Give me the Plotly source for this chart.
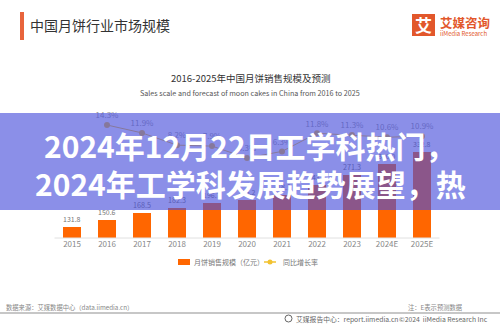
import plotly.graph_objects as go

years = ["2015", "2016", "2017", "2018", "2019", "2020", "2021", "2022", "2023", "2024E", "2025E"]
sales = [131.8, 150.6, 168.5, 182.3, 196.7, 205.2, 218.1, 243.8, 271.3, 300.0, 332.8]
growth_years = ["2016", "2017", "2018", "2019", "2020", "2021", "2022", "2023", "2024E", "2025E"]
growth = [14.3, 11.9, 8.2, 7.9, 4.3, 6.3, 11.8, 11.3, 10.6, 10.9]

W, H = 500, 325
FONT = "Noto Sans CJK SC"


def py(p):
    return (H - p) / H


def px(p):
    return p / W


fig = go.Figure()
fig.add_trace(go.Bar(
    x=years, y=sales, width=0.5, marker=dict(color="#ff6600", line=dict(width=0)),
    texttemplate="%{y:.1f}", textposition="outside", cliponaxis=False,
    textfont=dict(size=8, color="#777777", family=FONT), name="月饼销售规模（亿元）",
))
fig.add_trace(go.Scatter(
    x=growth_years, y=growth, yaxis="y2", mode="lines+markers+text",
    text=[f"{g}%" for g in growth], textposition="top center",
    textfont=dict(size=8, color="#9a9a9a", family=FONT),
    line=dict(color="#f2c230", width=1), marker=dict(color="#f2c230", size=6),
    cliponaxis=False, name="同比增长率",
))

r0 = -72 / 35
dom = [py(238), py(100)]
fig.update_layout(
    width=W, height=H, autosize=False,
    margin=dict(l=0, r=0, t=0, b=0),
    paper_bgcolor="white", plot_bgcolor="white",
    showlegend=False, bargap=0,
    font=dict(family=FONT, color="#333333"),
    xaxis=dict(type="category", range=[r0, r0 + W / 35], showgrid=False, zeroline=False,
               showline=False, ticks="", tickfont=dict(size=8, color="#888888", family=FONT),
               fixedrange=True),
    yaxis=dict(domain=dom, range=[102, 102 + 138 / 0.373], visible=False, showgrid=False),
    yaxis2=dict(domain=dom, range=[14.3 - (238 - 125) / 3.3, 14.3 + 25 / 3.3], overlaying="y",
                visible=False, showgrid=False),
)

shapes = []
annotations = []
# baseline
shapes.append(dict(type="line", xref="x", yref="paper", x0=-0.5, x1=10.5, y0=py(238), y1=py(238),
                   line=dict(color="#e0e0e0", width=1)))
# header bar
shapes.append(dict(type="rect", xref="paper", yref="paper", x0=px(20), x1=px(24), y0=py(40), y1=py(12),
                   fillcolor="#e8643c", line=dict(width=0)))
annotations.append(dict(text="中国月饼行业市场规模", x=px(28), y=py(25), xref="paper", yref="paper",
                        xanchor="left", yanchor="middle", showarrow=False,
                        font=dict(size=14, color="#333333", family=FONT)))
# logo
shapes.append(dict(type="rect", xref="paper", yref="paper", x0=px(412), x1=px(435), y0=py(36), y1=py(14),
                   fillcolor="#e2572b", line=dict(width=0)))
annotations.append(dict(text="<b>艾</b>", x=px(423.5), y=py(25), xref="paper", yref="paper",
                        xanchor="center", yanchor="middle", showarrow=False,
                        font=dict(size=17, color="white", family=FONT)))
annotations.append(dict(text="<b>艾媒咨询</b>", x=px(438), y=py(22), xref="paper", yref="paper",
                        xanchor="left", yanchor="middle", showarrow=False,
                        font=dict(size=12.5, color="#e2572b", family=FONT)))
annotations.append(dict(text="iiMedia Research", x=px(438), y=py(33), xref="paper", yref="paper",
                        xanchor="left", yanchor="middle", showarrow=False,
                        font=dict(size=6, color="#e2572b", family=FONT)))
# chart title
annotations.append(dict(text="2016-2025年中国月饼销售规模及预测", x=0.5, y=py(78), xref="paper", yref="paper",
                        xanchor="center", yanchor="middle", showarrow=False,
                        font=dict(size=9.5, color="#333333", family=FONT)))
annotations.append(dict(text="Sales scale and forecast of moon cakes in China from 2016 to 2025",
                        x=0.5, y=py(93), xref="paper", yref="paper",
                        xanchor="center", yanchor="middle", showarrow=False,
                        font=dict(size=7.2, color="#555555", family=FONT)))
# legend
shapes.append(dict(type="rect", xref="paper", yref="paper", x0=px(178), x1=px(190), y0=py(265), y1=py(259),
                   fillcolor="#ff6600", line=dict(width=0)))
annotations.append(dict(text="月饼销售规模（亿元）", x=px(192), y=py(262), xref="paper", yref="paper",
                        xanchor="left", yanchor="middle", showarrow=False,
                        font=dict(size=7, color="#777777", family=FONT)))
shapes.append(dict(type="line", xref="paper", yref="paper", x0=px(264), x1=px(276), y0=py(262), y1=py(262),
                   line=dict(color="#f2c230", width=1.5)))
shapes.append(dict(type="circle", xref="paper", yref="paper", x0=px(267.5), x1=px(272.5), y0=py(264.5),
                   y1=py(259.5), fillcolor="#f2c230", line=dict(width=0)))
annotations.append(dict(text="同比增长率", x=px(281), y=py(262), xref="paper", yref="paper",
                        xanchor="left", yanchor="middle", showarrow=False,
                        font=dict(size=7, color="#777777", family=FONT)))
# footer
annotations.append(dict(text="数据来源：艾媒数据中心（data.iimedia.cn）", x=px(4), y=py(307), xref="paper",
                        yref="paper", xanchor="left", yanchor="middle", showarrow=False,
                        font=dict(size=6.3, color="#888888", family=FONT)))
annotations.append(dict(text="注：E表示预测数据", x=px(465), y=py(307), xref="paper",
                        yref="paper", xanchor="right", yanchor="middle", showarrow=False,
                        font=dict(size=6.3, color="#888888", family=FONT)))
shapes.append(dict(type="line", xref="paper", yref="paper", x0=0, x1=1, y0=py(313), y1=py(313),
                   line=dict(color="#b5b5b5", width=1.5)))
shapes.append(dict(type="circle", xref="paper", yref="paper", x0=px(285), x1=px(292), y0=py(322),
                   y1=py(315), fillcolor="white", line=dict(color="#666666", width=1)))
annotations.append(dict(text="艾媒报告中心：report.iimedia.cn", x=px(294), y=py(319), xref="paper",
                        yref="paper", xanchor="left", yanchor="middle", showarrow=False,
                        font=dict(size=6.8, color="#666666", family=FONT)))
annotations.append(dict(text="©2024  iiMedia Research Inc", x=px(490), y=py(319), xref="paper",
                        yref="paper", xanchor="right", yanchor="middle", showarrow=False,
                        font=dict(size=6.8, color="#666666", family=FONT)))
# overlay band
shapes.append(dict(type="rect", xref="paper", yref="paper", x0=0, x1=1, y0=py(210), y1=py(113),
                   fillcolor="rgba(71,78,218,0.63)", line=dict(width=0), layer="above"))
annotations.append(dict(text="<b>2024年12月22日工学科热门，</b>", x=0.5, y=py(145), xref="paper",
                        yref="paper", xanchor="center", yanchor="middle", showarrow=False,
                        font=dict(size=30, color="white", family=FONT)))
annotations.append(dict(text="<b>2024年工学科发展趋势展望，热</b>", x=0.5, y=py(183), xref="paper",
                        yref="paper", xanchor="center", yanchor="middle", showarrow=False,
                        font=dict(size=30, color="white", family=FONT)))

fig.update_layout(shapes=shapes, annotations=annotations)
fig.write_html("out.html")
